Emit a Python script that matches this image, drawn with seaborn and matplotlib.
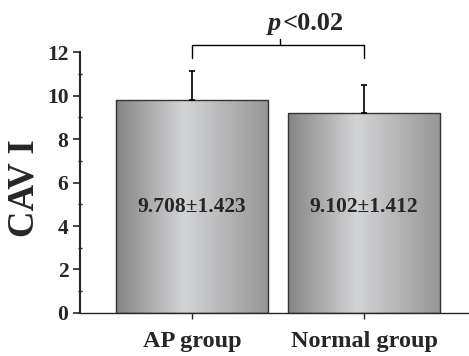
import numpy as np
import pandas as pd
import matplotlib
matplotlib.use("Agg")
import matplotlib.pyplot as plt
from matplotlib.colors import LinearSegmentedColormap
from matplotlib.ticker import MultipleLocator
import seaborn as sns

groups = ["AP group", "Normal group"]
means = [9.8, 9.2]
errors = [1.35, 1.3]
bar_labels = ["9.708\u00b11.423", "9.102\u00b11.412"]
p_text = "<0.02"

df = pd.DataFrame({"group": groups, "CAV I": means})

sns.set_style("ticks")
plt.rcParams["font.family"] = ["Liberation Serif", "DejaVu Serif"]
plt.rcParams["font.weight"] = "bold"

fig = plt.figure(figsize=(4.69, 3.56), dpi=100)
ax = fig.add_axes([0.171, 0.121, 0.827, 0.732])

sns.barplot(data=df, x="group", y="CAV I", width=0.884, errorbar=None,
            color="#aaaaaa", edgecolor="#333333", linewidth=1, ax=ax)

# horizontal metallic gradient inside each bar
cmap = LinearSegmentedColormap.from_list(
    "metal", [(0, "#858585"), (0.45, "#d3d4d6"), (1, "#979797")])
grad = np.linspace(0, 1, 256).reshape(1, -1)
for patch in ax.patches:
    x0, y0 = patch.get_x(), patch.get_y()
    w, h = patch.get_width(), patch.get_height()
    im = ax.imshow(grad, cmap=cmap, aspect="auto",
                   extent=[x0, x0 + w, y0, y0 + h], zorder=patch.get_zorder())
    im.set_clip_path(patch)
    patch.set_facecolor("none")
    patch.set_zorder(patch.get_zorder() + 0.5)

ax.errorbar([0, 1], means, yerr=[[0, 0], errors], fmt="none",
            ecolor="black", elinewidth=1.2, capsize=2, capthick=1.2, zorder=5)

for i, lab in enumerate(bar_labels):
    ax.text(i, 4.87, lab, ha="center", va="center", fontsize=15.5,
            fontweight="bold")

# significance bracket
ax.plot([0, 0, 1, 1], [11.72, 12.32, 12.32, 11.72], color="black", lw=1,
        clip_on=False)
ax.plot([0.51, 0.51], [12.32, 12.6], color="black", lw=1, clip_on=False)
ax.text(0.52, 12.8, "p", ha="right", va="bottom", fontsize=19,
        fontweight="bold", fontstyle="italic")
ax.text(0.525, 12.8, p_text, ha="left", va="bottom", fontsize=19,
        fontweight="bold")

ax.set_xlim(-0.651, 1.605)
ax.set_ylim(0, 12)
ax.yaxis.set_major_locator(MultipleLocator(2))
ax.yaxis.set_minor_locator(MultipleLocator(1))
ax.tick_params(axis="y", which="major", length=5, width=1.2, labelsize=15.5)
ax.tick_params(axis="y", which="minor", length=3, width=1, direction="inout")
ax.tick_params(axis="x", length=4, width=1, labelsize=17.5, pad=9)
for lab in ax.get_xticklabels() + ax.get_yticklabels():
    lab.set_fontweight("bold")

ax.set_xlabel("")
ax.set_ylabel("CAV I", fontsize=26.5, fontweight="bold")
ax.yaxis.set_label_coords(-0.1, 0.477)
sns.despine(ax=ax)
ax.spines["left"].set_linewidth(1.5)
ax.spines["bottom"].set_linewidth(1)

fig.savefig("out.png", dpi=100)
